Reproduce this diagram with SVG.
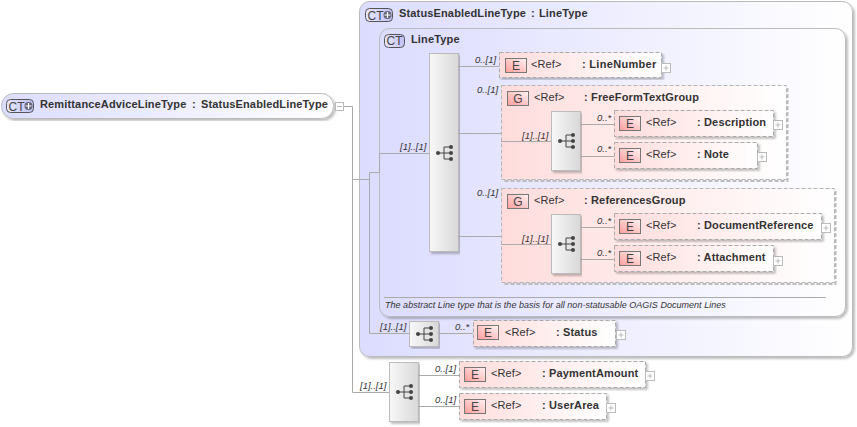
<svg xmlns="http://www.w3.org/2000/svg" width="857" height="427" viewBox="0 0 857 427">
<style>
text{font-family:"Liberation Sans",Arial,sans-serif;fill:#333}
.n{font-size:11px;font-weight:bold;letter-spacing:.15px}
.r{font-size:11px;letter-spacing:.1px}
.c{font-size:9.5px;font-style:italic}
.t{font-size:12px;fill:#444;text-anchor:middle}
.l{fill:none;stroke:#aaa;stroke-width:1}
.el{fill:url(#pink);stroke:#aaa;stroke-dasharray:4 2}
.gr{fill:url(#pink);stroke:#b5b5b5;stroke-dasharray:4 2}
.gs{fill:none;stroke:#bbb;stroke-width:2;stroke-dasharray:4 2}
.ei{fill:url(#ered);stroke:#777}
.ci{fill:url(#blue);stroke:#555}
.sq{fill:url(#grey);stroke:#bbb}
.pm{fill:#fff;stroke:#bbb}
.pl{stroke:#bbb;fill:none}
.ic{stroke:#444;fill:none}
.d{fill:#444}
</style>
<defs>
<linearGradient id="pink"><stop offset="0" stop-color="#ffdcdc"/><stop offset="1" stop-color="#fff"/></linearGradient>
<linearGradient id="lav"><stop offset="0" stop-color="#dcdcff"/><stop offset="1" stop-color="#fff"/></linearGradient>
<linearGradient id="ered" x1="1" y1="0" x2="0" y2="1"><stop offset="0" stop-color="#fff4f4"/><stop offset="1" stop-color="#ff9c9c"/></linearGradient>
<linearGradient id="blue" x2="1" y2="0"><stop offset="0" stop-color="#e8e8ff"/><stop offset="1" stop-color="#c0c0f4"/></linearGradient>
<linearGradient id="grey"><stop offset="0" stop-color="#f8f8f8"/><stop offset="1" stop-color="#d8d8d8"/></linearGradient>
<filter id="sh" x="-5%" y="-5%" width="110%" height="115%"><feDropShadow dx="2" dy="2" stdDeviation="1" flood-color="#000" flood-opacity=".25"/></filter>
<g id="seq"><path class="ic" d="M-7 0H-1M-1-6V6M-1-6H6M-1 0H6M-1 6H6"/><circle class="d" cx="-7" cy="0" r="2"/><circle class="d" cx="6" cy="-6" r="2"/><circle class="d" cx="6" cy="0" r="2"/><circle class="d" cx="6" cy="6" r="2"/></g>
<g id="plus"><rect class="pm" x="0" y="0" width="9" height="9"/><path class="pl" d="M2 4.500H7M4.500 2V7"/></g>
<g id="E"><rect class="ei" x="0" y="0" width="21" height="14"/><text class="t" x="10.500" y="11.500">E</text></g>
<g id="G"><rect class="ei" x="0" y="0" width="21" height="14"/><text class="t" x="10.500" y="11.500">G</text></g>
<g id="CTp"><rect class="ci" x="0" y="0" width="27" height="13" rx="4"/><text class="t" x="10" y="11">CT</text><circle cx="22" cy="6.500" r="4" fill="#667"/><path d="M19 6.500h6M22 3.500v6" stroke="#fff" stroke-width="1.200"/></g>
</defs>

<g id="status-enabled-line-type">
<rect x="359.500" y="1.500" width="493" height="355" rx="10" fill="url(#lav)" stroke="#bbb" filter="url(#sh)"/>
<use href="#CTp" x="365.500" y="8.500"/>
<text class="n" x="399" y="17">StatusEnabledLineType</text><text class="n" x="531" y="17">:</text><text class="n" x="539" y="17">LineType</text>
</g>
<g id="line-type">
<rect x="379.500" y="28.500" width="466" height="288" rx="10" fill="url(#lav)" stroke="#bbb" filter="url(#sh)"/>
<rect class="ci" x="384.500" y="34.500" width="20" height="13" rx="4"/><text class="t" x="394.500" y="45">CT</text>
<text class="n" x="411" y="43">LineType</text>
<path d="M384 297.500H826" stroke="#aaa" fill="none"/>
<text x="385" y="308" style="font-size:9px;font-style:italic;letter-spacing:.025px">The abstract Line type that is the basis for all non-statusable OAGIS Document Lines</text>
</g>

<g id="root">
<rect x="1.500" y="93.500" width="332" height="25" rx="12" fill="url(#lav)" stroke="#bbb" filter="url(#sh)"/>
<use href="#CTp" x="6.500" y="99.500"/>
<text class="n" x="40" y="108">RemittanceAdviceLineType</text><text class="n" x="192" y="108">:</text><text class="n" x="201" y="108">StatusEnabledLineType</text>
<rect class="pm" x="335.500" y="102.500" width="8" height="8"/><path class="pl" d="M337 106.500H342"/>
</g>

<g id="seq-main"><rect class="sq" x="429.500" y="53.500" width="29" height="198" filter="url(#sh)"/><use href="#seq" x="445" y="153"/></g>

<g id="LineNumber"><rect class="el" x="499.500" y="52.500" width="162" height="25" filter="url(#sh)"/><use href="#E" x="505.500" y="58.500"/><text class="r" x="531" y="68">&lt;Ref&gt;</text><text class="n" x="582" y="68" style="letter-spacing:.3px">: LineNumber</text><use href="#plus" x="661.500" y="63.500"/></g>

<g id="FreeFormTextGroup"><path class="gs" d="M787.500 88V181H504"/><rect class="gr" x="501.500" y="85.500" width="285" height="94"/><use href="#G" x="507.500" y="91.500"/><text class="r" x="534" y="101">&lt;Ref&gt;</text><text class="n" x="584" y="101">: FreeFormTextGroup</text></g>
<g id="seq-free"><rect class="sq" x="551.500" y="111.500" width="29" height="59" filter="url(#sh)"/><use href="#seq" x="567" y="141"/></g>
<g id="Description"><rect class="el" x="614.500" y="110.500" width="159" height="26" filter="url(#sh)"/><use href="#E" x="619.500" y="116.500"/><text class="r" x="646" y="126">&lt;Ref&gt;</text><text class="n" x="697" y="126">: Description</text><use href="#plus" x="773.500" y="120.500"/></g>
<g id="Note"><rect class="el" x="614.500" y="142.500" width="143" height="26" filter="url(#sh)"/><use href="#E" x="619.500" y="148.500"/><text class="r" x="646" y="158">&lt;Ref&gt;</text><text class="n" x="697" y="158">: Note</text><use href="#plus" x="757.500" y="152.500"/></g>

<g id="ReferencesGroup"><path class="gs" d="M835.500 191V284H504"/><rect class="gr" x="501.500" y="188.500" width="333" height="94"/><use href="#G" x="507.500" y="194.500"/><text class="r" x="534" y="204">&lt;Ref&gt;</text><text class="n" x="584" y="204">: ReferencesGroup</text></g>
<g id="seq-ref"><rect class="sq" x="551.500" y="214.500" width="29" height="59" filter="url(#sh)"/><use href="#seq" x="567" y="244"/></g>
<g id="DocumentReference"><rect class="el" x="614.500" y="213.500" width="207" height="26" filter="url(#sh)"/><use href="#E" x="619.500" y="219.500"/><text class="r" x="646" y="229">&lt;Ref&gt;</text><text class="n" x="697" y="229">: DocumentReference</text><use href="#plus" x="821.500" y="223.500"/></g>
<g id="Attachment"><rect class="el" x="614.500" y="245.500" width="159" height="26" filter="url(#sh)"/><use href="#E" x="619.500" y="251.500"/><text class="r" x="646" y="261">&lt;Ref&gt;</text><text class="n" x="697" y="261">: Attachment</text><use href="#plus" x="773.500" y="256.500"/></g>

<g id="seq-status"><rect class="sq" x="409.500" y="321.500" width="29" height="25" filter="url(#sh)"/><use href="#seq" x="425" y="334"/></g>
<g id="Status"><rect class="el" x="473.500" y="320.500" width="142" height="26" filter="url(#sh)"/><use href="#E" x="477.500" y="325.500"/><text class="r" x="505" y="336">&lt;Ref&gt;</text><text class="n" x="556" y="336">: Status</text><use href="#plus" x="616.500" y="330.500"/></g>

<g id="seq-bottom"><rect class="sq" x="389.500" y="362.500" width="29" height="59" filter="url(#sh)"/><use href="#seq" x="405" y="392"/></g>
<g id="PaymentAmount"><rect class="el" x="459.500" y="361.500" width="186" height="26" filter="url(#sh)"/><use href="#E" x="464.500" y="367.500"/><text class="r" x="491" y="377">&lt;Ref&gt;</text><text class="n" x="542" y="377">: PaymentAmount</text><use href="#plus" x="645.500" y="371.500"/></g>
<g id="UserArea"><rect class="el" x="459.500" y="393.500" width="147" height="26" filter="url(#sh)"/><use href="#E" x="464.500" y="399.500"/><text class="r" x="491" y="409">&lt;Ref&gt;</text><text class="n" x="542" y="409">: UserArea</text><use href="#plus" x="606.500" y="403.500"/></g>

<g id="connectors">
<path class="l" d="M344 106.500H352.500V392.500H389M352 179.500H369.500M379.500 153.500V172.500H369.500V333.500H409M379.500 153.500H429"/>
<path class="l" d="M458 66.500H499M458 133.500H501M458 236.500H501M501 141.500H551M501 244.500H551"/>
<path class="l" d="M580 124.500H614M580 156.500H614M580 227.500H614M580 259.500H614"/>
<path class="l" d="M438 333.500H473M418 375.500H459M418 406.500H459"/>
</g>
<g id="labels">
<text class="c" x="400" y="150">[1]..[1]</text>
<text class="c" x="475" y="63">0..[1]</text>
<text class="c" x="477" y="93">0..[1]</text>
<text class="c" x="477" y="196">0..[1]</text>
<text class="c" x="522" y="138.500">[1]..[1]</text>
<text class="c" x="522" y="241.500">[1]..[1]</text>
<text class="c" x="597" y="120.500">0..*</text>
<text class="c" x="597" y="152">0..*</text>
<text class="c" x="597" y="224">0..*</text>
<text class="c" x="597" y="255.500">0..*</text>
<text class="c" x="380" y="330">[1]..[1]</text>
<text class="c" x="455" y="330">0..*</text>
<text class="c" x="360" y="389">[1]..[1]</text>
<text class="c" x="435" y="371.500">0..[1]</text>
<text class="c" x="435" y="403">0..[1]</text>
</g>
</svg>
